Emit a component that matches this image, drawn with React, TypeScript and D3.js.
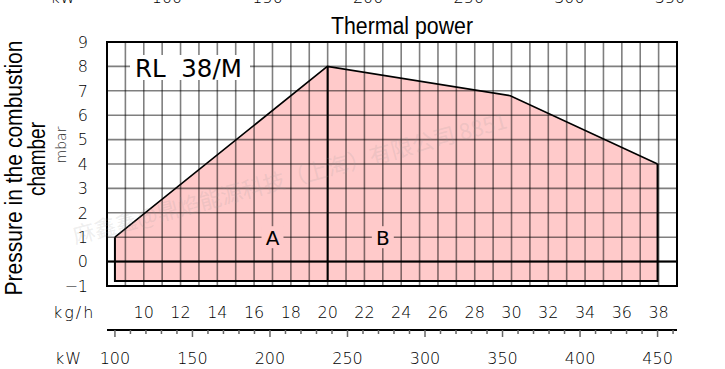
import React, { useEffect, useRef } from 'react'
import * as d3 from 'd3'

// light oil: kW delivered per kg/h
const KW_PER_KGH = 11.86

// working field envelope (thermal power in kW, pressure in mbar)
const envelopeKw = [100, 100, 237, 355, 450, 450]
const envelopeMbar = [-0.8, 1, 8, 6.8, 4, -0.8]
const splitKgh = 20 // boundary between zone A and zone B

const pressureTicks = [9, 8, 7, 6, 5, 4, 3, 2, 1, 0, -1]
const kghTicks = [10, 12, 14, 16, 18, 20, 22, 24, 26, 28, 30, 32, 34, 36, 38]
const kwTicks = [100, 150, 200, 250, 300, 350, 400, 450]
const kwMinorTicks = [110, 120, 130, 140, 160, 170, 180, 190, 210, 220, 230, 240, 260, 270, 280, 290, 310, 320, 330, 340, 360, 370, 380, 390, 410, 420, 430, 440, 460]
const zoneNames = ['A', 'B']
const zoneKgh = [17, 23]
const zoneMbar = [1, 1]

// cut-off axis of the chart above this one
const topKwTicks = [100, 150, 200, 250, 300, 350]

const W = 725
const H = 369
const thin = "'DejaVu Sans', sans-serif"
const sans = "'Liberation Sans', Arial, sans-serif"

export default function App() {
  const ref = useRef<SVGSVGElement | null>(null)

  useEffect(() => {
    if (!ref.current) return
    const svg = d3.select(ref.current)
    svg.selectAll('*').remove()

    const x = d3.scaleLinear().domain([8, 39]).range([107, 677])
    const y = d3.scaleLinear().domain([-1, 9]).range([286, 42])
    const xKw = (kw: number) => x(kw / KW_PER_KGH)

    svg.append('rect').attr('width', W).attr('height', H).attr('fill', '#fff')

    // top: leftovers of the previous chart's kW axis
    const topX = d3.scaleLinear().domain([100, 350]).range([167, 670])
    svg.append('text').attr('x', 63).attr('y', 3).attr('text-anchor', 'middle')
      .style('font-family', thin).style('font-weight', 200).style('font-size', '16px').text('kW')
    svg.selectAll('text.topkw').data(topKwTicks).join('text').attr('class', 'topkw')
      .attr('x', (d) => topX(d)).attr('y', 3).attr('text-anchor', 'middle')
      .style('font-family', thin).style('font-weight', 200).style('font-size', '16px')
      .text((d) => d)

    // titles, slightly condensed like the original
    svg.append('text').attr('x', 402).attr('y', 33.5).attr('text-anchor', 'middle')
      .attr('textLength', 142).attr('lengthAdjust', 'spacingAndGlyphs')
      .style('font-family', sans).style('font-size', '23.5px').text('Thermal power')
    svg.append('text').attr('transform', 'translate(22,168) rotate(-90)').attr('text-anchor', 'middle')
      .attr('textLength', 255).attr('lengthAdjust', 'spacingAndGlyphs')
      .style('font-family', sans).style('font-size', '23.5px').text('Pressure in the combustion')
    svg.append('text').attr('transform', 'translate(45,159) rotate(-90)').attr('text-anchor', 'middle')
      .attr('textLength', 74).attr('lengthAdjust', 'spacingAndGlyphs')
      .style('font-family', sans).style('font-size', '23.5px').text('chamber')
    svg.append('text').attr('transform', 'translate(66,145) rotate(-90)').attr('text-anchor', 'middle')
      .attr('fill', '#333')
      .style('font-family', thin).style('font-weight', 200).style('font-size', '14px').text('mbar')

    // envelope fill
    const pts: [number, number][] = envelopeKw.map((kw, i) => [xKw(kw), y(envelopeMbar[i])])
    svg.append('path').attr('d', d3.line()(pts) + 'Z').attr('fill', '#ffcaca')

    // grid
    const g = svg.append('g').attr('stroke', '#000').attr('stroke-opacity', 0.5).attr('stroke-width', 1.6)
    g.selectAll('line.v').data(d3.range(9, 39)).join('line').attr('class', 'v')
      .attr('x1', (d) => x(d)).attr('x2', (d) => x(d)).attr('y1', y(9)).attr('y2', y(-1))
    g.selectAll('line.h').data(d3.range(0, 9)).join('line').attr('class', 'h')
      .attr('x1', x(8)).attr('x2', x(39)).attr('y1', (d) => y(d)).attr('y2', (d) => y(d))

    // label boxes (interrupt grid)
    svg.append('rect').attr('x', 130).attr('y', 55).attr('width', 120).attr('height', 25).attr('fill', '#fff')
    zoneNames.forEach((n, i) => {
      const cx = x(zoneKgh[i])
      const cy = y(zoneMbar[i])
      svg.append('rect').attr('x', cx - 11).attr('y', cy - 11).attr('width', 22).attr('height', 22).attr('fill', '#ffcaca')
      svg.append('text').attr('x', cx).attr('y', cy + 7.5).attr('text-anchor', 'middle')
        .style('font-family', thin).style('font-size', '20px').text(n)
    })
    svg.append('text').attr('x', 135).attr('y', 77).style('white-space', 'pre')
      .style('font-family', thin).style('font-size', '24.5px').text('RL  38/M')

    // envelope outline, split line, zero line, frame
    svg.append('path').attr('d', d3.line()(pts.slice(1, 5))).attr('fill', 'none').attr('stroke', '#000').attr('stroke-width', 1.6)
    svg.append('path').attr('d', d3.line()([pts[1], pts[0], pts[5], pts[4]])).attr('fill', 'none').attr('stroke', '#000').attr('stroke-width', 2)
    svg.append('line').attr('x1', x(splitKgh)).attr('x2', x(splitKgh)).attr('y1', y(8)).attr('y2', y(envelopeMbar[0]))
      .attr('stroke', '#000').attr('stroke-width', 2)
    svg.append('line').attr('x1', x(8) - 1).attr('x2', x(39) + 1).attr('y1', y(0)).attr('y2', y(0))
      .attr('stroke', '#000').attr('stroke-width', 2)
    svg.append('rect').attr('x', x(8)).attr('y', y(9)).attr('width', x(39) - x(8)).attr('height', y(-1) - y(9))
      .attr('fill', 'none').attr('stroke', '#000').attr('stroke-width', 2)

    // y tick labels
    svg.selectAll('text.yt').data(pressureTicks).join('text').attr('class', 'yt')
      .attr('x', 88).attr('y', (d) => y(d) + 5.8).attr('text-anchor', 'end')
      .style('font-family', thin).style('font-weight', 200).style('font-size', '16px')
      .text((d) => (d < 0 ? '\u2212' + Math.abs(d) : String(d)))

    // kg/h scale
    svg.append('text').attr('x', 53).attr('y', 317.5).style('letter-spacing', '2px')
      .style('font-family', thin).style('font-weight', 200).style('font-size', '16px').text('kg/h')
    svg.selectAll('text.kgh').data(kghTicks).join('text').attr('class', 'kgh')
      .attr('x', (d) => x(d)).attr('y', 317.5).attr('text-anchor', 'middle')
      .style('font-family', thin).style('font-weight', 200).style('font-size', '16px')
      .text((d) => d)

    // kW axis
    svg.append('line').attr('x1', x(8)).attr('x2', x(39)).attr('y1', 330).attr('y2', 330)
      .attr('stroke', '#000').attr('stroke-width', 2)
    svg.selectAll('line.minor').data(kwMinorTicks).join('line').attr('class', 'minor')
      .attr('x1', (d) => xKw(d)).attr('x2', (d) => xKw(d)).attr('y1', 330).attr('y2', 334)
      .attr('stroke', '#666').attr('stroke-width', 1.5)
    svg.selectAll('line.major').data(kwTicks).join('line').attr('class', 'major')
      .attr('x1', (d) => xKw(d)).attr('x2', (d) => xKw(d)).attr('y1', 330).attr('y2', 337)
      .attr('stroke', '#666').attr('stroke-width', 1.5)
    svg.append('text').attr('x', 55).attr('y', 363.5).style('letter-spacing', '1px')
      .style('font-family', thin).style('font-weight', 200).style('font-size', '16px').text('kW')
    svg.selectAll('text.kw').data(kwTicks).join('text').attr('class', 'kw')
      .attr('x', (d) => xKw(d)).attr('y', 363.5).attr('text-anchor', 'middle')
      .style('font-family', thin).style('font-weight', 200).style('font-size', '16px')
      .text((d) => d)

    // faint watermark
    svg.append('text').attr('transform', 'translate(292,186) rotate(-15)').attr('text-anchor', 'middle')
      .attr('fill', '#999').attr('fill-opacity', 0.18)
      .style('font-family', "'Noto Sans CJK SC', sans-serif").style('font-size', '22px')
      .text('麻鑫鑫@鼎焰能源科技（上海）有限公司 8851')
  }, [])

  return (
    <svg ref={ref} width={W} height={H} style={{ position: 'absolute', left: 0, top: 0 }} role="img" aria-label="RL 38/M firing rate" />
  )
}
